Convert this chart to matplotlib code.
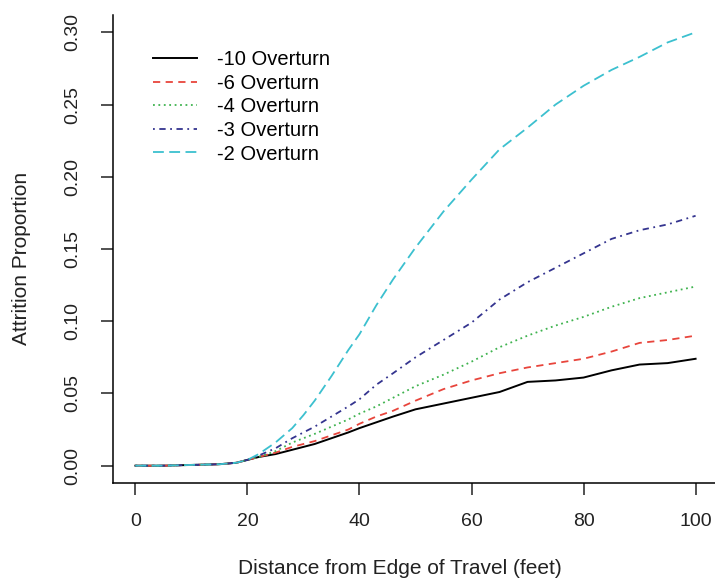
import matplotlib.pyplot as plt

plt.rcParams['font.family'] = ['Liberation Sans', 'DejaVu Sans']

distance = [0, 5, 10, 15, 18, 20, 22, 25, 28, 30, 32, 35, 38, 40, 43, 46,
            50, 55, 60, 65, 70, 75, 80, 85, 90, 95, 100]

over_10 = [0, 0, 0.0005, 0.001, 0.002, 0.004, 0.006, 0.008, 0.011, 0.013, 0.015, 0.019, 0.023, 0.026, 0.030, 0.034,
           0.039, 0.043, 0.047, 0.051, 0.058, 0.059, 0.061, 0.066, 0.070, 0.071, 0.074]
over_6 = [0, 0, 0.0005, 0.001, 0.002, 0.004, 0.006, 0.009, 0.013, 0.015, 0.017, 0.021, 0.025, 0.029, 0.034, 0.038,
          0.045, 0.053, 0.059, 0.064, 0.068, 0.071, 0.074, 0.079, 0.085, 0.087, 0.090]
over_4 = [0, 0, 0.0005, 0.001, 0.002, 0.004, 0.006, 0.010, 0.016, 0.019, 0.022, 0.027, 0.032, 0.036, 0.041, 0.047,
          0.055, 0.063, 0.072, 0.082, 0.090, 0.097, 0.103, 0.110, 0.116, 0.120, 0.124]
over_3 = [0, 0, 0.0005, 0.001, 0.002, 0.004, 0.007, 0.012, 0.019, 0.023, 0.027, 0.034, 0.041, 0.046, 0.056, 0.064,
          0.075, 0.087, 0.099, 0.115, 0.127, 0.137, 0.147, 0.157, 0.163, 0.167, 0.173]
over_2 = [0, 0, 0.0005, 0.001, 0.002, 0.004, 0.008, 0.016, 0.026, 0.035, 0.045, 0.062, 0.080, 0.091, 0.111, 0.129,
          0.151, 0.176, 0.198, 0.219, 0.234, 0.250, 0.263, 0.274, 0.283, 0.293, 0.300]

labels = ['-10 Overturn', '-6 Overturn', '-4 Overturn', '-3 Overturn', '-2 Overturn']
yticks = [0.00, 0.05, 0.10, 0.15, 0.20, 0.25, 0.30]
xticks = [0, 20, 40, 60, 80, 100]

fig = plt.figure(figsize=(7.15, 5.79), dpi=100)
ax = fig.add_axes([113 / 715, 96 / 579, 605 / 715, 468 / 579])

ax.plot(distance, over_10, color='black', lw=1.4, linestyle='-', label=labels[0])
ax.plot(distance, over_6, color='#e8453c', lw=1.3, linestyle=(0, (4, 3)), label=labels[1])
ax.plot(distance, over_4, color='#3fb34f', lw=1.3, linestyle=(0, (1, 2)), label=labels[2])
ax.plot(distance, over_3, color='#34348f', lw=1.3, linestyle=(0, (1, 2.5, 3.5, 2.5)), label=labels[3])
ax.plot(distance, over_2, color='#3cc0cf', lw=1.3, linestyle=(0, (6, 3)), label=labels[4])

ax.set_xlim(-4, 104)
ax.set_ylim(-0.012, 0.312)
ax.set_xticks(xticks)
ax.set_xticklabels([str(t) for t in xticks])
ax.set_yticks(yticks)
ax.set_yticklabels(['%.2f' % t for t in yticks], rotation=90, va='center')

ax.spines['top'].set_visible(False)
ax.spines['right'].set_visible(False)
ax.spines['left'].set_linewidth(1.1)
ax.spines['bottom'].set_linewidth(1.1)
ax.tick_params(axis='both', length=8.6, width=1.1, labelsize=14, colors='#222222')
ax.tick_params(axis='x', pad=13)
ax.tick_params(axis='y', pad=14)

fig.text(22 / 715, 1 - 258 / 579, 'Attrition Proportion', rotation=90,
         ha='center', va='center', fontsize=15, color='#222222')
fig.text(400 / 715, 1 - 568 / 579, 'Distance from Edge of Travel (feet)',
         ha='center', va='center', fontsize=15, color='#222222')

ax.legend(loc='upper left', bbox_to_anchor=(153 / 715, 1 - 50 / 579),
          bbox_transform=fig.transFigure, frameon=False, fontsize=14.5,
          handlelength=2.2, handletextpad=1.0, labelspacing=0.23, borderpad=0,
          borderaxespad=0)

fig.savefig('out.png', dpi=100)
